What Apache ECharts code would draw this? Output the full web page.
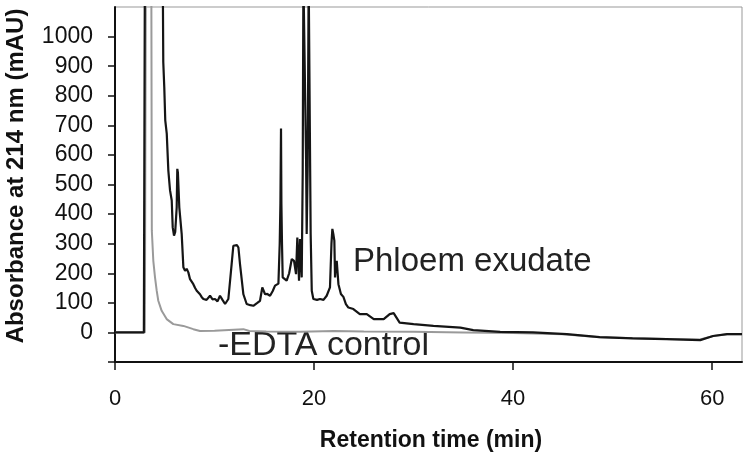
<!DOCTYPE html>
<html>
<head>
<meta charset="utf-8">
<script src="https://cdn.jsdelivr.net/npm/echarts@6/dist/echarts.min.js"></script>
<style>
  html, body { margin: 0; padding: 0; background: #fff; }
  #chart { width: 747px; height: 460px; }
</style>
</head>
<body>
<div id="chart"></div>
<script>
// retention time (min) / absorbance (mAU); 1200 = detector off scale
var phloemTime = [0, 2.9, 3.0, 4.8, 4.85, 4.95, 5.05, 5.2, 5.36, 5.53, 5.7, 5.8, 5.93, 6.05, 6.2, 6.26, 6.32, 6.46, 6.7, 6.87,
    7.04, 7.2, 7.37, 7.54, 7.7, 7.87, 8.05, 8.21, 8.4, 8.54, 8.7, 8.88, 9.2, 9.55, 9.8, 10.05, 10.3, 10.55, 10.8, 11.06,
    11.39, 11.72, 11.89, 12.06, 12.25, 12.4, 12.56, 12.9, 13.23, 13.6, 13.9, 14.3, 14.57, 14.8, 15.08, 15.3, 15.58, 15.85, 16.08, 16.42,
    16.55, 16.62, 16.68, 16.72, 16.78, 16.85, 17.05, 17.25, 17.5, 17.76, 17.99, 18.19, 18.32, 18.42, 18.49, 18.59, 18.68, 18.76, 18.86, 18.93,
    19.1, 19.2, 19.26, 19.36, 19.46, 19.6, 19.66, 19.77, 19.93, 20.3, 20.6, 20.95, 21.27, 21.6, 21.75, 21.84, 21.95, 22.04, 22.11, 22.2,
    22.28, 22.45, 22.7, 22.95, 23.2, 23.45, 23.95, 24.6, 25.3, 26.0, 27.0, 27.6, 28.0, 28.6, 30.0, 32.0, 34.7, 36.0, 38.7, 42.0,
    45.4, 48.7, 52.0, 55.4, 58.8, 60.1, 61.5, 63];
var phloemAbs = [0, 0, 1200, 1200, 914, 830, 717, 672, 547, 480, 446, 355, 327, 340, 423, 553, 540, 423, 333, 220,
    208, 215, 203, 180, 185, 163, 150, 141, 135, 129, 120, 113, 110, 124, 112, 113, 105, 124, 110, 96,
    113, 231, 293, 298, 295, 287, 231, 129, 96, 92, 90, 100, 107, 152, 129, 130, 124, 140, 158, 165,
    300, 435, 689, 435, 300, 186, 180, 175, 200, 248, 242, 197, 321, 240, 175, 316, 250, 186, 536, 1200,
    1200, 581, 333, 559, 1200, 1200, 333, 141, 113, 110, 113, 110, 124, 152, 300, 350, 330, 310, 186, 230,
    242, 163, 130, 120, 96, 84, 79, 62, 62, 45, 45, 62, 65, 33, 28, 22, 16, 8, 2, 0,
    -6, -16, -20, -23, -26, -12, -6, -6];

var controlTime = [0, 3.0, 3.1, 3.65, 3.7, 3.85, 4.02, 4.19, 4.35, 4.69, 5.19, 5.86, 6.87, 7.87, 8.54, 10.0, 12.9, 13.5, 15.2, 18.6,
    22.0, 25.0, 30.0, 35.0, 40.0, 45.0, 48.7, 55.4, 58.8, 60.1, 61.5, 63];
var controlAbs = [0, 0, 1200, 1200, 344, 242, 186, 141, 107, 73, 45, 28, 22, 11, 5, 6, 11, 5, 3, 2,
    5, 3, 2, 0, -2, -6, -16, -22, -24, -12, -6, -6];

var xTicks = [0, 20, 40, 60];
var yTicks = [0, 100, 200, 300, 400, 500, 600, 700, 800, 900, 1000];

function pairs(t, v) {
    var out = [];
    for (var i = 0; i < t.length; i++) out.push([t[i], v[i]]);
    return out;
}

var myChart = echarts.init(document.getElementById('chart'), null, { renderer: 'canvas' });

var font = 'Liberation Sans, Arial, sans-serif';

var option = {
    animation: false,
    backgroundColor: '#fff',
    grid: {
        left: 115, right: 5, top: 7, bottom: 98,
        show: true, borderColor: '#999', borderWidth: 1,
        outerBoundsMode: 'none'
    },
    xAxis: {
        type: 'value',
        min: 0, max: 63, interval: 20,
        axisLine: { onZero: false, lineStyle: { color: '#111', width: 2 } },
        axisTick: { customValues: xTicks, length: 8, lineStyle: { color: '#111', width: 1.5 } },
        axisLabel: {
            customValues: xTicks, fontSize: 22, color: '#111', margin: 26, fontFamily: font,
            formatter: function (v) { return String(v); }
        },
        splitLine: { show: false }
    },
    yAxis: {
        type: 'value',
        min: -100, max: 1100, interval: 100,
        axisLine: { show: true, lineStyle: { color: '#111', width: 2 } },
        axisTick: { show: true, customValues: [-100].concat(yTicks), length: 7, lineStyle: { color: '#111', width: 1.5 } },
        axisLabel: {
            customValues: yTicks, fontSize: 23, color: '#111', margin: 22, fontFamily: font,
            formatter: function (v) { return String(v); }
        },
        splitLine: { show: false }
    },
    series: [{
        name: '-EDTA control',
        type: 'line',
        showSymbol: false,
        symbol: 'none',
        lineStyle: { color: '#9a9a9a', width: 2 },
        data: pairs(controlTime, controlAbs)
    }, {
        name: 'Phloem exudate',
        type: 'line',
        showSymbol: false,
        symbol: 'none',
        lineStyle: { color: '#151515', width: 2.2 },
        data: pairs(phloemTime, phloemAbs)
    }],
    graphic: [{
        type: 'text', x: 353, y: 262,
        style: { text: 'Phloem exudate', fontSize: 33, fontFamily: font, fill: '#222', textAlign: 'left', textVerticalAlign: 'middle' }
    }, {
        type: 'text', x: 218, y: 346,
        style: { text: '-EDTA control', fontSize: 34, fontFamily: font, fill: '#222', textAlign: 'left', textVerticalAlign: 'middle' }
    }, {
        type: 'text', x: 431, y: 441,
        style: { text: 'Retention time (min)', fontSize: 23, fontWeight: 'bold', fontFamily: font, fill: '#111', textAlign: 'center', textVerticalAlign: 'middle' }
    }, {
        type: 'text', x: 16, y: 176, rotation: Math.PI / 2,
        style: { text: 'Absorbance at 214 nm (mAU)', fontSize: 24, fontWeight: 'bold', fontFamily: font, fill: '#111', textAlign: 'center', textVerticalAlign: 'middle' }
    }]
};

myChart.setOption(option);
</script>
</body>
</html>
